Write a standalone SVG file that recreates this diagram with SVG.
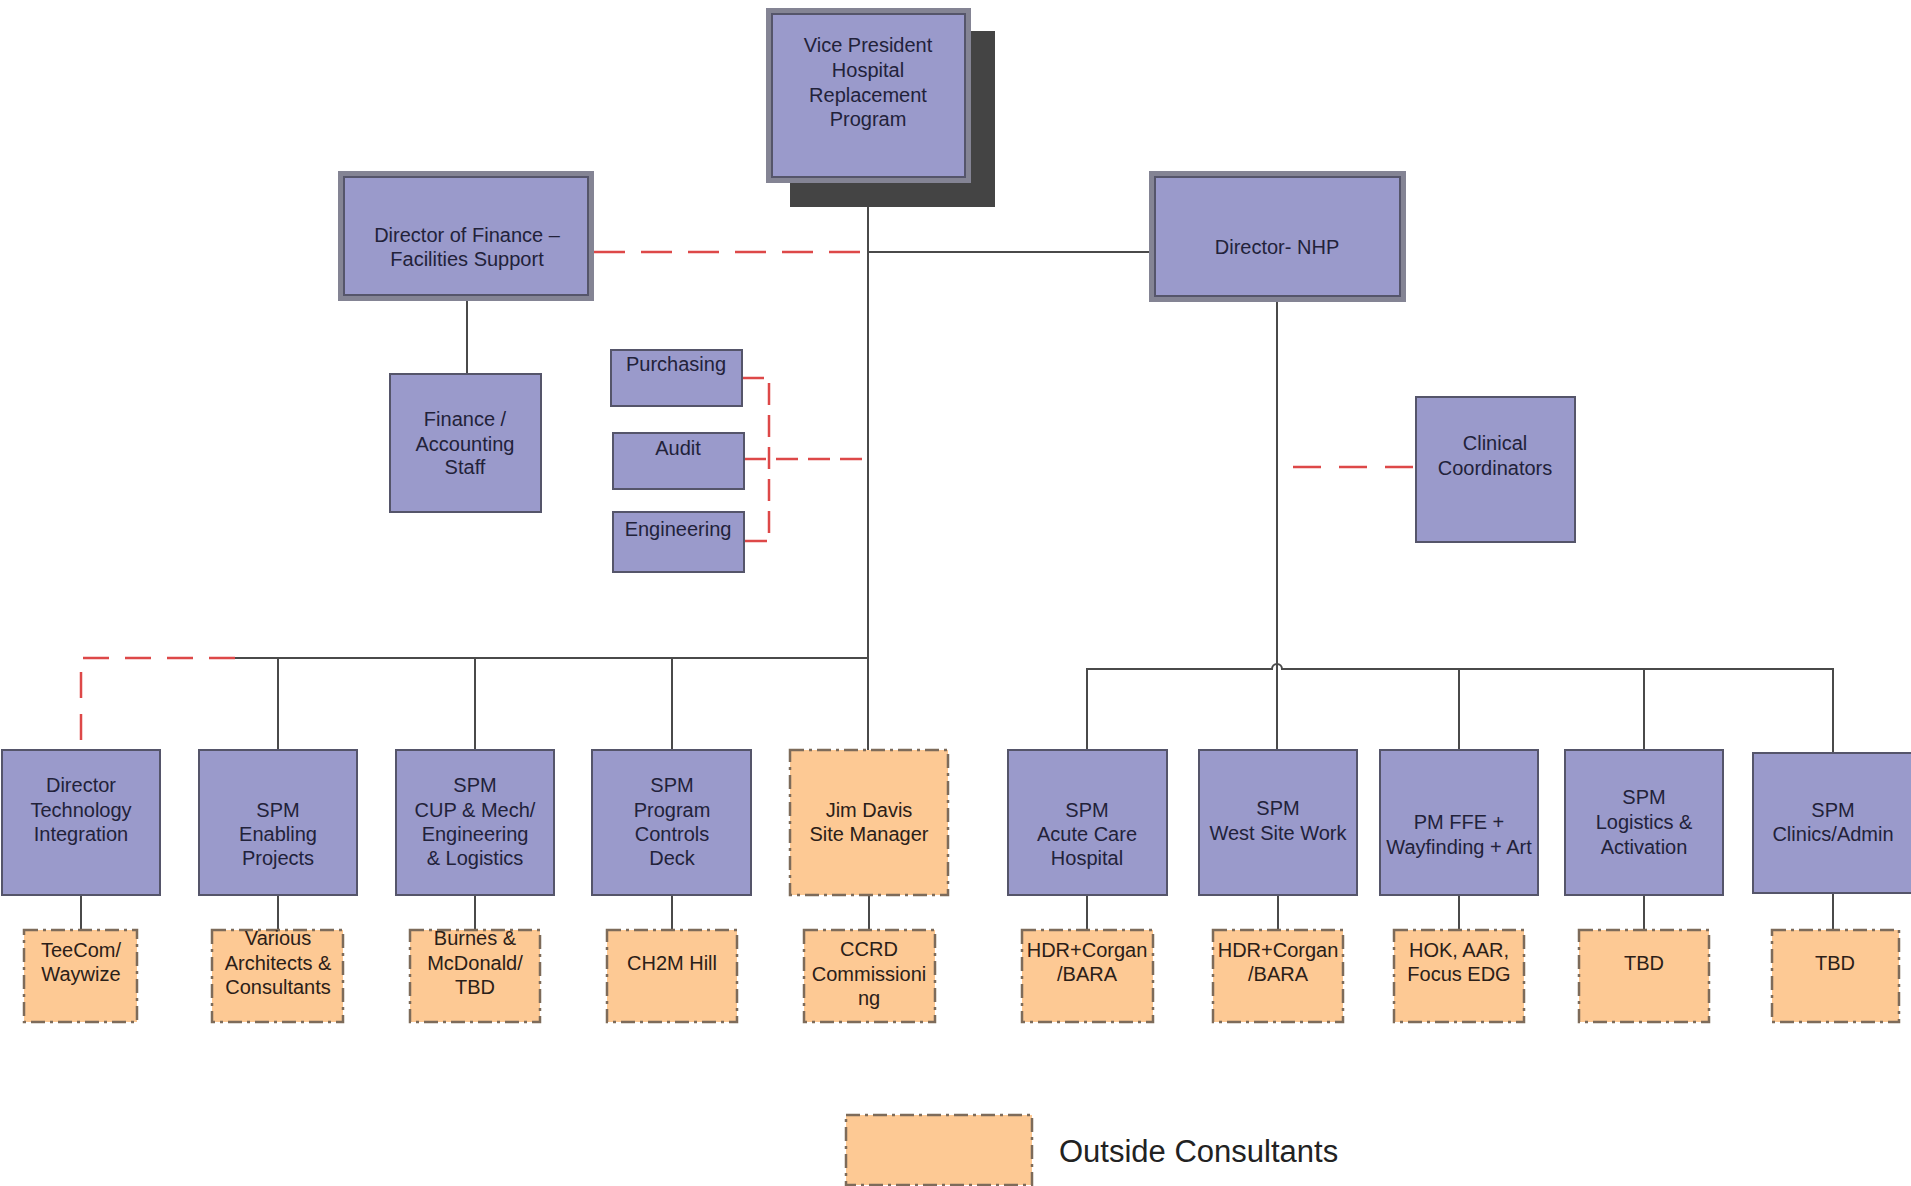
<svg xmlns="http://www.w3.org/2000/svg" width="1911" height="1186" viewBox="0 0 1911 1186">
<style>
.p{fill:#9a9acb;stroke:#55556a;stroke-width:2}
.po{fill:#9a9acb;stroke:#848494;stroke-width:5}
.pi{fill:none;stroke:#55556a;stroke-width:2}
.o{fill:#fdc994;stroke:#7d6b5a;stroke-width:2.5;stroke-dasharray:14 5 3 5}
.t{font-family:"Liberation Sans",Arial,sans-serif;font-size:20px;fill:#22223a;text-anchor:middle}
.to{font-family:"Liberation Sans",Arial,sans-serif;font-size:20px;fill:#2b2018;text-anchor:middle}
.c{stroke:#4a4a4a;stroke-width:2;fill:none}
.r{stroke:#dd4848;stroke-width:2.5;fill:none;stroke-dasharray:31 16}
.r2{stroke:#dd4848;stroke-width:2.5;fill:none;stroke-dasharray:22 10}
.r3{stroke:#dd4848;stroke-width:2.5;fill:none;stroke-dasharray:26 16}
</style>
<rect width="1911" height="1186" fill="#ffffff"/>
<g id="connectors">
  <path class="c" d="M868 183 V750"/>
  <path class="c" d="M868 252 H1149"/>
  <path class="r" d="M594 252 H868"/>
  <path class="c" d="M467 301 V374"/>
  <path class="r2" d="M744 459 H868"/>
  <path class="r2" d="M742 378 H769 V541 H744"/>
  <path class="c" d="M1277 302 V750"/>
  <path class="r" d="M1293 467 H1416" style="stroke-dasharray:28 18"/>
  <path class="c" d="M235 658 H868"/>
  <path class="r3" d="M235 658 H81 V750"/>
  <path class="c" d="M278 658 V750 M475 658 V750 M672 658 V750"/>
  <path class="c" d="M1087 750 V669 H1272 A5 5 0 0 1 1282 669 H1833 V753"/>
  <path class="c" d="M1459 669 V750 M1644 669 V750"/>
  <path class="c" d="M81 895 V930 M278 895 V930 M475 895 V930 M672 895 V930 M869 895 V930 M1087 895 V930 M1278 895 V930 M1459 895 V930 M1644 895 V930 M1833 893 V930"/>
</g>
<g id="vp">
  <rect x="790" y="31" width="205" height="176" fill="#444444"/>
  <rect class="po" x="768.5" y="10.5" width="200" height="170"/>
  <rect class="pi" x="772" y="14" width="193" height="163"/>
  <text class="t" x="868" y="52">Vice President</text>
  <text class="t" x="868" y="77">Hospital</text>
  <text class="t" x="868" y="102">Replacement</text>
  <text class="t" x="868" y="126">Program</text>
</g>
<g id="dof">
  <rect class="po" x="340.5" y="173.5" width="251" height="125"/>
  <rect class="pi" x="344" y="177" width="244" height="118"/>
  <text class="t" x="467" y="242">Director of Finance –</text>
  <text class="t" x="467" y="266">Facilities Support</text>
</g>
<g id="nhp">
  <rect class="po" x="1151.5" y="173.5" width="252" height="126"/>
  <rect class="pi" x="1155" y="177" width="245" height="119"/>
  <text class="t" x="1277" y="254">Director- NHP</text>
</g>
<g id="finance">
  <rect class="p" x="390" y="374" width="151" height="138"/>
  <text class="t" x="465" y="426">Finance /</text>
  <text class="t" x="465" y="451">Accounting</text>
  <text class="t" x="465" y="474">Staff</text>
</g>
<g id="purchasing">
  <rect class="p" x="611" y="350" width="131" height="56"/>
  <text class="t" x="676" y="371">Purchasing</text>
</g>
<g id="audit">
  <rect class="p" x="613" y="433" width="131" height="56"/>
  <text class="t" x="678" y="455">Audit</text>
</g>
<g id="engineering">
  <rect class="p" x="613" y="512" width="131" height="60"/>
  <text class="t" x="678" y="536">Engineering</text>
</g>
<g id="clinical">
  <rect class="p" x="1416" y="397" width="159" height="145"/>
  <text class="t" x="1495" y="450">Clinical</text>
  <text class="t" x="1495" y="475">Coordinators</text>
</g>
<g id="dti">
  <rect class="p" x="2" y="750" width="158" height="145"/>
  <text class="t" x="81" y="792">Director</text>
  <text class="t" x="81" y="817">Technology</text>
  <text class="t" x="81" y="841">Integration</text>
</g>
<g id="enabling">
  <rect class="p" x="199" y="750" width="158" height="145"/>
  <text class="t" x="278" y="817">SPM</text>
  <text class="t" x="278" y="841">Enabling</text>
  <text class="t" x="278" y="865">Projects</text>
</g>
<g id="cup">
  <rect class="p" x="396" y="750" width="158" height="145"/>
  <text class="t" x="475" y="792">SPM</text>
  <text class="t" x="475" y="817">CUP &amp; Mech/</text>
  <text class="t" x="475" y="841">Engineering</text>
  <text class="t" x="475" y="865">&amp; Logistics</text>
</g>
<g id="controls">
  <rect class="p" x="592" y="750" width="159" height="145"/>
  <text class="t" x="672" y="792">SPM</text>
  <text class="t" x="672" y="817">Program</text>
  <text class="t" x="672" y="841">Controls</text>
  <text class="t" x="672" y="865">Deck</text>
</g>
<g id="jimdavis">
  <rect class="o" x="790" y="750" width="158" height="145"/>
  <text class="to" x="869" y="817">Jim Davis</text>
  <text class="to" x="869" y="841">Site Manager</text>
</g>
<g id="acute">
  <rect class="p" x="1008" y="750" width="159" height="145"/>
  <text class="t" x="1087" y="817">SPM</text>
  <text class="t" x="1087" y="841">Acute Care</text>
  <text class="t" x="1087" y="865">Hospital</text>
</g>
<g id="westsite">
  <rect class="p" x="1199" y="750" width="158" height="145"/>
  <text class="t" x="1278" y="815">SPM</text>
  <text class="t" x="1278" y="840">West Site Work</text>
</g>
<g id="ffe">
  <rect class="p" x="1380" y="750" width="158" height="145"/>
  <text class="t" x="1459" y="829">PM FFE +</text>
  <text class="t" x="1459" y="854">Wayfinding + Art</text>
</g>
<g id="logistics">
  <rect class="p" x="1565" y="750" width="158" height="145"/>
  <text class="t" x="1644" y="804">SPM</text>
  <text class="t" x="1644" y="829">Logistics &amp;</text>
  <text class="t" x="1644" y="854">Activation</text>
</g>
<g id="clinics">
  <rect class="p" x="1753" y="753" width="160" height="140"/>
  <text class="t" x="1833" y="817">SPM</text>
  <text class="t" x="1833" y="841">Clinics/Admin</text>
</g>
<g id="teecom">
  <rect class="o" x="24" y="930" width="113" height="92"/>
  <text class="to" x="81" y="957">TeeCom/</text>
  <text class="to" x="81" y="981">Waywize</text>
</g>
<g id="various">
  <rect class="o" x="212" y="930" width="131" height="92"/>
  <text class="to" x="278" y="945">Various</text>
  <text class="to" x="278" y="970">Architects &amp;</text>
  <text class="to" x="278" y="994">Consultants</text>
</g>
<g id="burnes">
  <rect class="o" x="410" y="930" width="130" height="92"/>
  <text class="to" x="475" y="945">Burnes &amp;</text>
  <text class="to" x="475" y="970">McDonald/</text>
  <text class="to" x="475" y="994">TBD</text>
</g>
<g id="ch2m">
  <rect class="o" x="607" y="930" width="130" height="92"/>
  <text class="to" x="672" y="970">CH2M Hill</text>
</g>
<g id="ccrd">
  <rect class="o" x="804" y="930" width="131" height="92"/>
  <text class="to" x="869" y="956">CCRD</text>
  <text class="to" x="869" y="981">Commissioni</text>
  <text class="to" x="869" y="1005">ng</text>
</g>
<g id="hdr1">
  <rect class="o" x="1022" y="930" width="131" height="92"/>
  <text class="to" x="1087" y="957">HDR+Corgan</text>
  <text class="to" x="1087" y="981">/BARA</text>
</g>
<g id="hdr2">
  <rect class="o" x="1213" y="930" width="130" height="92"/>
  <text class="to" x="1278" y="957">HDR+Corgan</text>
  <text class="to" x="1278" y="981">/BARA</text>
</g>
<g id="hok">
  <rect class="o" x="1394" y="930" width="130" height="92"/>
  <text class="to" x="1459" y="957">HOK, AAR,</text>
  <text class="to" x="1459" y="981">Focus EDG</text>
</g>
<g id="tbd1">
  <rect class="o" x="1579" y="930" width="130" height="92"/>
  <text class="to" x="1644" y="970">TBD</text>
</g>
<g id="tbd2">
  <rect class="o" x="1772" y="930" width="127" height="92"/>
  <text class="to" x="1835" y="970">TBD</text>
</g>
<g id="legend">
  <rect class="o" x="846" y="1115" width="186" height="70"/>
  <text x="1059" y="1162" style="font-family:'Liberation Sans',Arial,sans-serif;font-size:31px;fill:#222222">Outside Consultants</text>
</g>
</svg>
